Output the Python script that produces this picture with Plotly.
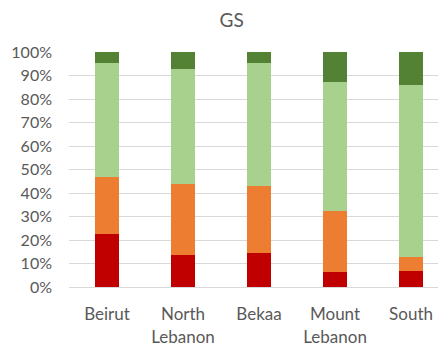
import plotly.graph_objects as go

categories = ["Beirut", "North<br>Lebanon", "Bekaa", "Mount<br>Lebanon", "South"]
seg1 = [22.5, 13.7, 14.4, 6.2, 6.6]
seg2 = [24.2, 30.1, 28.7, 26.2, 6.3]
seg3 = [48.8, 49.1, 52.4, 55.0, 73.1]
seg4 = [4.5, 7.1, 4.5, 12.6, 14.0]
colors = ["#C00000", "#ED7D31", "#A9D18E", "#548235"]
yticks = [0, 10, 20, 30, 40, 50, 60, 70, 80, 90, 100]

fig = go.Figure()
for vals, c in zip([seg1, seg2, seg3, seg4], colors):
    fig.add_trace(go.Bar(x=list(range(len(categories))), y=vals, marker=dict(color=c, line=dict(width=0)),
                         showlegend=False))

fig.update_layout(
    barmode="stack",
    bargap=0.69,
    width=446, height=347,
    margin=dict(l=61, r=8, t=44, b=68),
    paper_bgcolor="white", plot_bgcolor="white",
    title=dict(text="GS", x=0.5016, xanchor="center", y=0.9654, yanchor="middle",
               font=dict(family="Lato, Open Sans, sans-serif", size=19, color="#595959")),
    font=dict(family="Lato, Open Sans, sans-serif", size=16, color="#595959"),
    xaxis=dict(tickmode="array", tickvals=list(range(len(categories))), ticktext=categories,
               range=[-0.5, 4.46], showgrid=False, showline=True, linecolor="#d9d9d9", ticks="",
               automargin=False,
               ticklabelstandoff=12, tickfont=dict(size=17, color="#595959")),
    yaxis=dict(range=[0, 100], tickvals=yticks, ticktext=[f"{v}%" for v in yticks],
               showgrid=True, gridcolor="#d9d9d9", gridwidth=1, zeroline=False, ticks="",
               automargin=False,
               ticklabelstandoff=16, tickfont=dict(size=16, color="#595959")),
)
fig.write_html("out.html")
